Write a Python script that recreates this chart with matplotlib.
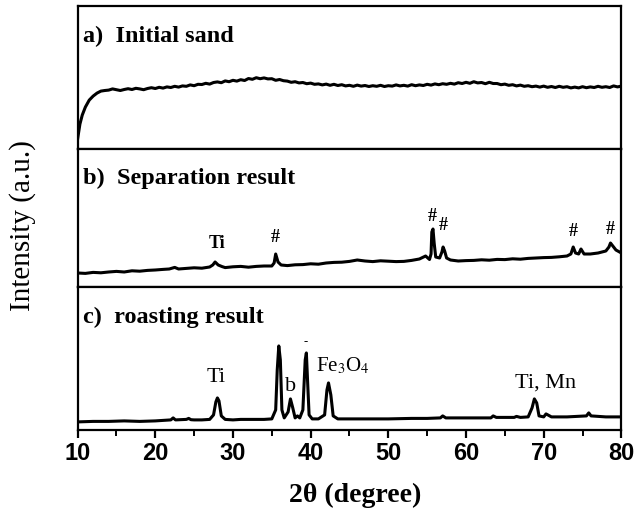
import numpy as np
import matplotlib
matplotlib.use("Agg")
import matplotlib.pyplot as plt
from matplotlib.ticker import MultipleLocator

plt.rcParams["font.family"] = ["Liberation Serif", "DejaVu Serif"]
plt.rcParams["mathtext.fontset"] = "stix"

# a) initial sand (arbitrary intensity)
a_x = [10, 10.3, 10.6, 11, 11.5, 12, 12.5, 13, 13.5] + list(np.arange(14, 80.01, 0.5))
a_y = [10, 25, 34, 42, 49, 53, 56, 58, 58.6,
       59, 60.2, 59.4, 58.6, 59.6, 60.4, 59.6, 60.8, 60.2, 59.4, 60.6, 61.4,
       60.6, 61.8, 61, 62.2, 61.6, 62.8, 62, 63.2, 62.8, 64.2, 63.4, 64.8,
       64.6, 65.8, 65, 66.6, 67.2, 66.4, 68.2, 67.4, 68.8, 68, 69.4, 68.6,
       70.6, 69.8, 71.4, 70.4, 71.2, 70.2, 70.4, 68.8, 69.6, 68.4, 68, 66.8,
       67.4, 66.2, 66.6, 65.4, 66, 64.8, 65.2, 64.2, 65, 63.8, 64.8, 63.6,
       64.4, 63.2, 63.8, 62.8, 64, 63, 63.6, 62.6, 63.4, 62.8, 63.8, 62.6,
       63.4, 63, 64.2, 63.2, 63.8, 63, 64.4, 63.4, 64.2, 63.6, 64.8, 64, 65.2,
       64.4, 65.4, 64.8, 65.8, 65, 66.4, 65.6, 66.8, 65.8, 67.4, 66.2, 66.6,
       65.4, 66.8, 65.6, 65.6, 64.4, 65, 63.8, 64.4, 63.2, 64, 62.8, 63.4,
       62.4, 63, 62, 63, 61.8, 62.6, 61.6, 62.8, 61.8, 62.4, 61.2, 62, 61.2,
       62.4, 61.4, 62.2, 61.6, 62.8, 61.8, 62.4, 61.6, 63.2, 62.2, 63]

# b) separation result
b_x = [10, 11, 12, 13, 14, 15, 16, 17, 18, 19, 20, 21, 21.8, 22.5, 23, 24,
       25, 26, 27, 27.4, 27.7, 28.1, 28.6, 29, 30, 31, 32, 33, 34, 35, 35.3,
       35.5, 35.8, 36.2, 37, 38, 39, 40, 41, 42, 43, 44, 45, 46, 47, 48, 49,
       50, 51, 52, 53, 54, 54.8, 55.3, 55.5, 55.6, 55.75, 55.9, 56.1, 56.6,
       56.9, 57.05, 57.25, 57.5, 58, 59, 60, 61, 62, 63, 64, 65, 66, 67, 68,
       69, 70, 71, 72, 73, 73.5, 73.8, 74.1, 74.5, 74.8, 75.2, 76, 77, 78,
       78.4, 78.6, 78.9, 79.3, 80]
b_y = [14, 13.6, 14.6, 14.2, 15, 15.6, 15, 16.2, 15.8, 16.6, 17, 17.6, 18,
       19.6, 18, 18.6, 19.2, 18.8, 20, 22, 25, 22, 20.4, 19.4, 20.2, 20.6,
       19.8, 20.6, 21, 21, 24, 33, 25, 22, 21.4, 22.2, 22.4, 23.2, 22.8, 24,
       24.6, 24.8, 25.6, 27, 26, 25.4, 26.2, 25.8, 25.4, 25.6, 26.6, 28, 31,
       27.5, 33, 55, 58, 44, 30, 29, 35, 40, 36, 29, 27, 26, 26.4, 26.6, 27.2,
       26.8, 27.6, 27.4, 28.2, 27.8, 28.6, 29, 29.4, 29.6, 30.2, 31, 33, 40,
       34, 33, 38, 33, 33, 34, 36, 40, 44, 41, 37, 34]

# c) roasting result
c_x = [10, 12, 14, 16, 18, 20, 22, 22.3, 22.6, 24, 24.3, 24.6, 25, 26, 27,
       27.5, 27.8, 28.0, 28.2, 28.5, 29, 30, 31, 32, 33, 34, 35, 35.5, 35.7,
       35.9, 36.1, 36.3, 36.6, 37.1, 37.4, 37.7, 38, 38.3, 38.6, 39.0, 39.3,
       39.45, 39.6, 39.8, 40.2, 41, 41.8, 42.1, 42.3, 42.6, 42.9, 43.5, 45,
       47, 50, 53, 55, 56.7, 57, 57.4, 60, 63.2, 63.5, 63.9, 66.2, 66.5, 67,
       68, 68.5, 68.8, 69.1, 69.4, 70, 70.3, 71, 73, 75.5, 75.8, 76.1, 78, 80]
c_y = [8, 8.5, 8.5, 9, 8.5, 9, 10, 12, 10, 10.5, 11.5, 10.2, 10, 10, 10.5, 15,
       28, 32, 29, 14, 10.5, 10, 10.5, 10.5, 10.5, 10.5, 11, 20, 60, 84, 70,
       20, 12, 18, 31, 22, 12, 14, 12, 20, 70, 77, 50, 15, 11, 11, 15, 40, 47,
       35, 14, 11, 11, 11, 11, 11.5, 11.5, 12, 14, 12, 12, 12, 14, 12.5, 12.5,
       13.5, 12.5, 13, 22, 31, 27, 14, 13, 16, 13, 13, 14, 17, 14, 13, 13]

panel_titles = ["a)  Initial sand", "b)  Separation result", "c)  roasting result"]
ylims = [143, 138, 143]

fig, axes = plt.subplots(3, 1, figsize=(6.36, 5.13), dpi=100, sharex=True,
                         gridspec_kw={"height_ratios": ylims})
fig.subplots_adjust(left=0.122, right=0.977, top=0.988, bottom=0.162, hspace=0)

for ax, xs, ys, title, top in zip(axes, [a_x, b_x, c_x], [a_y, b_y, c_y],
                                  panel_titles, ylims):
    ax.plot(xs, ys, color="black", lw=2.2)
    ax.set_xlim(10, 80)
    ax.set_ylim(0, top)
    ax.set_yticks([])
    for sp in ax.spines.values():
        sp.set_linewidth(1.6)
    ax.text(0.01, 0.79, title, transform=ax.transAxes, fontsize=17.5,
            fontweight="bold", va="center", ha="left")

for ax in axes[:2]:
    ax.tick_params(axis="x", which="both", bottom=False, labelbottom=False)

ax = axes[2]
ax.xaxis.set_major_locator(MultipleLocator(10))
ax.xaxis.set_minor_locator(MultipleLocator(5))
ax.tick_params(axis="x", which="major", direction="out", length=6, width=1.6,
               labelsize=17, pad=3)
ax.tick_params(axis="x", which="minor", direction="out", length=4, width=1.4)
for lbl in ax.get_xticklabels():
    lbl.set_fontfamily("Liberation Sans")
    lbl.set_fontweight("bold")
fig.text(0.558, 0.035, "2θ (degree)", fontsize=20, fontweight="bold",
         ha="center", va="center")

# annotations panel b
axes[1].text(27.9, 44, "Ti", fontsize=13, fontweight="bold", ha="center", va="center")
for px, py in [(35.5, 50), (55.7, 71), (57.1, 62), (73.8, 56), (78.6, 58)]:
    axes[1].text(px, py, "#", fontsize=13, fontweight="bold", ha="center", va="center")

# annotations panel c
axes[2].text(27.8, 52, "Ti", fontsize=16, ha="center", va="center")
axes[2].text(37.4, 43, "b", fontsize=16, ha="center", va="center")
axes[2].text(39.4, 88, "-", fontsize=9, ha="center", va="center")
axes[2].text(44.1, 64, "Fe$_3$O$_4$", fontsize=15, ha="center", va="center")
axes[2].text(70.2, 47, "Ti, Mn", fontsize=16, ha="center", va="center")

fig.text(0.035, 0.56, "Intensity (a.u.)", rotation=90, fontsize=21,
         ha="center", va="center")

fig.savefig("out.png", dpi=100)
